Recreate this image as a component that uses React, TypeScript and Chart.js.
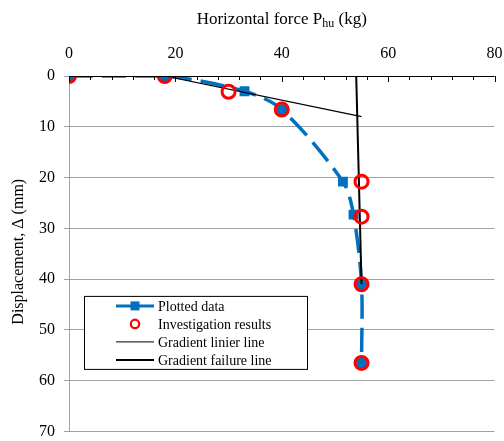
import React, { useEffect, useRef } from "react";
import { Chart, registerables } from "chart.js";

Chart.register(...registerables);

// ---- data ----
const plottedForce = [0, 18, 33, 40, 51.5, 53.5, 55, 55];
const plottedDisp = [0, 0, 3, 6.6, 20.8, 27.3, 41, 56.5];
const plottedStyles = ["circle", "circle", "rect", "circle", "rect", "rect", "circle", "circle"];

const investForce = [0, 18, 30, 40, 55, 55, 55, 55];
const investDisp = [0, 0, 3.1, 6.6, 20.8, 27.7, 41, 56.5];

const linearForce = [18, 55];
const linearDisp = [0, 8];

const failureForce = [54, 55];
const failureDisp = [0, 41];

const forceTicks = [0, 20, 40, 60, 80];
const forceMinorStep = 4;
const dispTicks = [0, 10, 20, 30, 40, 50, 60, 70];

const legendLabels = [
  "Plotted data",
  "Investigation results",
  "Gradient linier line",
  "Gradient failure line",
];

const BLUE = "#0070c0";
const RED = "#ff0000";
const SERIF = "'Liberation Serif', 'Times New Roman', serif";

const zip = (xs: number[], ys: number[]) => xs.map((x, i) => ({ x, y: ys[i] }));

const overlayPlugin = {
  id: "overlay",
  afterDraw(chart: any) {
    const { ctx, chartArea } = chart;
    const xs = chart.scales.x;
    const ys = chart.scales.y;
    ctx.save();

    // top axis line + inside ticks
    ctx.strokeStyle = "#000";
    ctx.lineWidth = 1;
    ctx.beginPath();
    ctx.moveTo(chartArea.left, chartArea.top + 0.5);
    ctx.lineTo(chartArea.right, chartArea.top + 0.5);
    ctx.stroke();
    for (let v = xs.min; v <= xs.max + 1e-9; v += forceMinorStep) {
      const px = Math.round(xs.getPixelForValue(v)) + 0.5;
      const major = forceTicks.includes(v);
      ctx.beginPath();
      ctx.moveTo(px, chartArea.top);
      ctx.lineTo(px, chartArea.top + (major ? 6 : 4));
      ctx.stroke();
    }

    // x title with subscript
    ctx.fillStyle = "#000";
    ctx.textBaseline = "alphabetic";
    const mainFont = `17px ${SERIF}`;
    const subFont = `12px ${SERIF}`;
    const p1 = "Horizontal force P";
    const sub = "hu";
    const p2 = " (kg)";
    ctx.font = mainFont;
    const w1 = ctx.measureText(p1).width;
    const w3 = ctx.measureText(p2).width;
    ctx.font = subFont;
    const w2 = ctx.measureText(sub).width;
    const total = w1 + w2 + w3;
    const cx = (chartArea.left + chartArea.right) / 2;
    const x0 = cx - total / 2;
    const base = chartArea.top - 52;
    ctx.font = mainFont;
    ctx.textAlign = "left";
    ctx.fillText(p1, x0, base);
    ctx.font = subFont;
    ctx.fillText(sub, x0 + w1, base + 3);
    ctx.font = mainFont;
    ctx.fillText(p2, x0 + w1 + w2, base);

    // y title rotated
    ctx.save();
    ctx.translate(chartArea.left - 50, (chartArea.top + chartArea.bottom) / 2 - 2);
    ctx.rotate(-Math.PI / 2);
    ctx.font = `16px ${SERIF}`;
    ctx.textAlign = "center";
    ctx.textBaseline = "middle";
    ctx.fillText("Displacement, \u0394 (mm)", 0, 0);
    ctx.restore();

    // legend box
    const bx = chartArea.left + 15;
    const by = ys.getPixelForValue(43.3);
    const bw = 223;
    const bh = 73;
    ctx.fillStyle = "#fff";
    ctx.fillRect(bx, by, bw, bh);
    ctx.strokeStyle = "#000";
    ctx.lineWidth = 1;
    ctx.strokeRect(bx + 0.5, by + 0.5, bw, bh);

    const sx1 = bx + 32;
    const sx2 = bx + 70;
    const smx = (sx1 + sx2) / 2;
    const tx = bx + 74;
    ctx.font = `14px ${SERIF}`;
    ctx.textAlign = "left";
    ctx.textBaseline = "middle";
    legendLabels.forEach((label, i) => {
      const ry = by + 10 + i * 18;
      if (i === 0) {
        ctx.strokeStyle = BLUE;
        ctx.lineWidth = 3;
        ctx.beginPath();
        ctx.moveTo(sx1, ry);
        ctx.lineTo(sx2, ry);
        ctx.stroke();
        ctx.fillStyle = BLUE;
        ctx.fillRect(smx - 4.5, ry - 4.5, 9, 9);
      } else if (i === 1) {
        ctx.strokeStyle = RED;
        ctx.lineWidth = 2.2;
        ctx.beginPath();
        ctx.arc(smx, ry, 4.2, 0, Math.PI * 2);
        ctx.stroke();
      } else {
        ctx.strokeStyle = "#000";
        ctx.lineWidth = i === 2 ? 1 : 2;
        ctx.beginPath();
        ctx.moveTo(sx1, ry);
        ctx.lineTo(sx2, ry);
        ctx.stroke();
      }
      ctx.fillStyle = "#000";
      ctx.fillText(label, tx, ry + 1);
    });

    ctx.restore();
  },
};

export default function App() {
  const canvasRef = useRef<HTMLCanvasElement | null>(null);

  useEffect(() => {
    const canvas = canvasRef.current;
    if (!canvas) return;
    const chart = new Chart(canvas, {
      type: "scatter",
      data: {
        datasets: [
          {
            label: legendLabels[1],
            data: zip(investForce, investDisp),
            showLine: false,
            pointStyle: "circle",
            pointRadius: 6.5,
            pointBorderWidth: 3,
            pointBorderColor: RED,
            pointBackgroundColor: "rgba(0,0,0,0)",
          },
          {
            label: legendLabels[3],
            data: zip(failureForce, failureDisp),
            showLine: true,
            borderColor: "#000",
            borderWidth: 2,
            pointRadius: 0,
          },
          {
            label: legendLabels[2],
            data: zip(linearForce, linearDisp),
            showLine: true,
            borderColor: "#000",
            borderWidth: 1.2,
            pointRadius: 0,
          },
          {
            label: legendLabels[0],
            data: zip(plottedForce, plottedDisp),
            showLine: true,
            borderColor: BLUE,
            borderWidth: 3.5,
            borderDash: [24, 9],
            tension: 0.3,
            pointStyle: plottedStyles as any,
            pointRadius: plottedStyles.map((s) => (s === "rect" ? 7 : 5.5)),
            pointBackgroundColor: BLUE,
            pointBorderColor: BLUE,
            pointBorderWidth: 0,
          },
        ],
      },
      options: {
        responsive: false,
        animation: false,
        layout: { padding: { left: 0, top: 0, right: 0, bottom: 0 } },
        plugins: {
          legend: { display: false },
          tooltip: { enabled: false },
          title: { display: false },
        },
        scales: {
          x: {
            type: "linear",
            position: "top",
            min: 0,
            max: 80,
            afterBuildTicks: (s: any) => {
              s.ticks = forceTicks.map((v) => ({ value: v }));
            },
            afterFit: (s: any) => {
              s.height = 76;
              s.paddingLeft = 0;
              s.paddingRight = 9;
            },
            ticks: {
              color: "#000",
              font: { family: SERIF, size: 16 },
              padding: 13,
              maxRotation: 0,
            },
            grid: { display: true, drawOnChartArea: false, drawTicks: false },
            border: { display: false },
          },
          y: {
            type: "linear",
            reverse: true,
            min: 0,
            max: 70,
            afterBuildTicks: (s: any) => {
              s.ticks = dispTicks.map((v) => ({ value: v }));
            },
            afterFit: (s: any) => {
              s.width = 69;
              s.paddingTop = 0;
              s.paddingBottom = 9;
            },
            ticks: {
              color: "#000",
              font: { family: SERIF, size: 16 },
              padding: 9,
            },
            grid: {
              color: (c: any) => (c.tick && c.tick.value === 0 ? "rgba(0,0,0,0)" : "#a0a0a0"),
              tickColor: "#a0a0a0",
              tickLength: 5,
              lineWidth: 1,
            },
            border: { display: true, color: "#a0a0a0", width: 1 },
          },
        },
      },
      plugins: [overlayPlugin],
    });
    return () => chart.destroy();
  }, []);

  return (
    <div style={{ position: "fixed", left: 0, top: 0, width: 504, height: 441, background: "#fff" }}>
      <canvas ref={canvasRef} width={504} height={441} style={{ width: 504, height: 441 }} />
    </div>
  );
}
